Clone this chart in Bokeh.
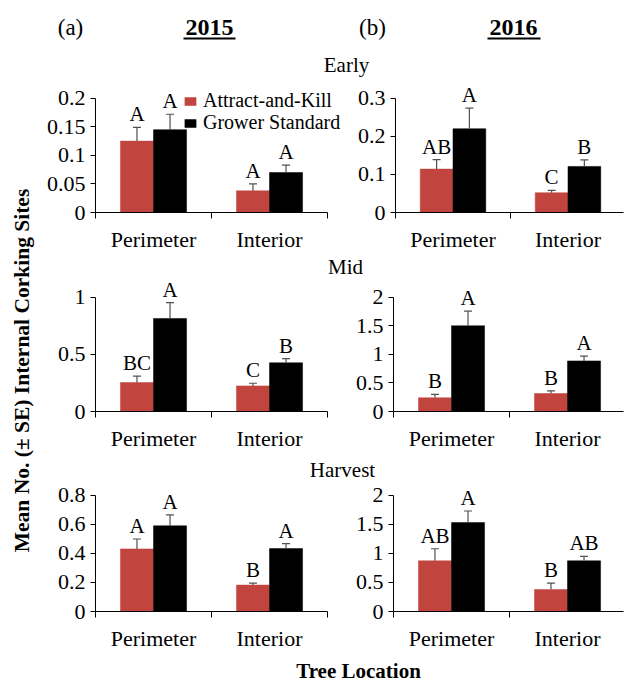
import math
from bokeh.plotting import figure
from bokeh.layouts import row, column
from bokeh.models import (Range1d, LinearAxis, FixedTicker, ColumnDataSource,
                          Whisker, TeeHead, Legend, LegendItem)
from bokeh.core.properties import value
from bokeh.embed import file_html
from bokeh.resources import INLINE

# ---------------- data ----------------
locations = ["Perimeter", "Interior"]
treatments = ["Attract-and-Kill", "Grower Standard"]
years = ["2015", "2016"]
panel_tags = ["(a)", "(b)"]
periods = ["Early", "Mid", "Harvest"]

ak_2015_early = [0.125, 0.038]
gs_2015_early = [0.145, 0.070]
ak_se_2015_early = [0.024, 0.012]
gs_se_2015_early = [0.027, 0.013]
ak_let_2015_early = ["A", "A"]
gs_let_2015_early = ["A", "A"]
ticks_2015_early = [0, 0.05, 0.1, 0.15, 0.2]

ak_2016_early = [0.114, 0.052]
gs_2016_early = [0.220, 0.121]
ak_se_2016_early = [0.025, 0.006]
gs_se_2016_early = [0.054, 0.017]
ak_let_2016_early = ["AB", "C"]
gs_let_2016_early = ["A", "B"]
ticks_2016_early = [0, 0.1, 0.2, 0.3]

ak_2015_mid = [0.253, 0.224]
gs_2015_mid = [0.814, 0.426]
ak_se_2015_mid = [0.057, 0.023]
gs_se_2015_mid = [0.138, 0.037]
ak_let_2015_mid = ["BC", "C"]
gs_let_2015_mid = ["A", "B"]
ticks_2015_mid = [0, 0.5, 1]

ak_2016_mid = [0.24, 0.314]
gs_2016_mid = [1.50, 0.885]
ak_se_2016_mid = [0.06, 0.046]
gs_se_2016_mid = [0.255, 0.085]
ak_let_2016_mid = ["B", "B"]
gs_let_2016_mid = ["A", "A"]
ticks_2016_mid = [0, 0.5, 1, 1.5, 2]

ak_2015_harv = [0.431, 0.182]
gs_2015_harv = [0.590, 0.433]
ak_se_2015_harv = [0.068, 0.013]
gs_se_2015_harv = [0.075, 0.034]
ak_let_2015_harv = ["A", "B"]
gs_let_2015_harv = ["A", "A"]
ticks_2015_harv = [0, 0.2, 0.4, 0.6, 0.8]

ak_2016_harv = [0.872, 0.38]
gs_2016_harv = [1.53, 0.872]
ak_se_2016_harv = [0.208, 0.11]
gs_se_2016_harv = [0.20, 0.078]
ak_let_2016_harv = ["AB", "B"]
gs_let_2016_harv = ["A", "AB"]
ticks_2016_harv = [0, 0.5, 1, 1.5, 2]

# ---------------- style ----------------
SERIF = "Liberation Serif"
RED = "#c1443e"
BLACK = "#000000"
ERR = "#505050"
TICK_FS = "22px"
CAT_FS = "22px"
LET_FS = "21px"
BAR_W = 0.285
AXIS_W = 232      # px covered by the two location categories


def panel(ak, gs, ak_se, gs_se, ak_let, gs_let, ticks, width, height,
          bl, br, bb, pad, legend=False):
    frame_h = height - bb
    frame_w = width - bl - br
    ymax = ticks[-1]
    yend = ymax * frame_h / (frame_h - pad)
    ncat = len(locations)
    xend = ncat * frame_w / AXIS_W
    p = figure(width=width, height=height, output_backend="svg",
               toolbar_location=None, x_range=Range1d(0, xend),
               y_range=Range1d(0, yend), x_axis_location=None,
               y_axis_location=None, min_border_left=bl, min_border_right=br,
               min_border_bottom=bb, min_border_top=0)
    p.outline_line_color = None
    p.xgrid.visible = False
    p.ygrid.visible = False
    p.background_fill_color = None
    p.border_fill_color = None

    centers = [i + 0.5 for i in range(ncat)]
    src_ak = ColumnDataSource(dict(
        x=[c - BAR_W / 2 for c in centers], top=ak,
        up=[m + s for m, s in zip(ak, ak_se)], lab=ak_let))
    src_gs = ColumnDataSource(dict(
        x=[c + BAR_W / 2 for c in centers], top=gs,
        up=[m + s for m, s in zip(gs, gs_se)], lab=gs_let))

    for src in (src_ak, src_gs):
        w = Whisker(base="x", upper="up", lower="top", source=src,
                    line_color=ERR, line_width=1.2,
                    upper_head=TeeHead(size=8, line_color=ERR, line_width=1.2),
                    lower_head=None, level="glyph")
        p.add_layout(w)

    r_ak = p.vbar(x="x", top="top", width=BAR_W, bottom=0, source=src_ak,
                  fill_color=RED, line_color=RED, line_width=0.5)
    r_gs = p.vbar(x="x", top="top", width=BAR_W, bottom=0, source=src_gs,
                  fill_color=BLACK, line_color=BLACK, line_width=0.5)

    for src in (src_ak, src_gs):
        p.text(x="x", y="up", text="lab", source=src, text_align="center",
               text_baseline="bottom", y_offset=-1,
               text_font=value(SERIF), text_font_size=LET_FS,
               text_color="black")

    yax = LinearAxis(ticker=FixedTicker(ticks=ticks), bounds=(0, ymax))
    yax.major_label_overrides = {t: f"{t:g}" for t in ticks}
    yax.major_tick_out = 5
    yax.major_tick_in = 0
    yax.minor_tick_out = 0
    yax.minor_tick_in = 0
    yax.major_label_standoff = 5
    yax.axis_line_color = "black"
    yax.major_tick_line_color = "black"
    yax.major_label_text_font = SERIF
    yax.major_label_text_font_size = TICK_FS
    yax.major_label_text_color = "black"
    p.add_layout(yax, "left")

    xax = LinearAxis(ticker=FixedTicker(ticks=centers,
                                        minor_ticks=list(range(ncat + 1))),
                     bounds=(0, ncat))
    xax.major_label_overrides = {c: n for c, n in zip(centers, locations)}
    xax.major_tick_out = 0
    xax.major_tick_in = 0
    xax.minor_tick_out = 6
    xax.minor_tick_in = 0
    xax.minor_tick_line_color = "black"
    xax.axis_line_color = "black"
    xax.major_label_standoff = 8
    xax.major_label_text_font = SERIF
    xax.major_label_text_font_size = CAT_FS
    xax.major_label_text_color = "black"
    p.add_layout(xax, "below")

    if legend:
        for i, (name, r) in enumerate(zip(treatments, (r_ak, r_gs))):
            lg = Legend(items=[LegendItem(label=name, renderers=[r])],
                        location=(88, 100 - 22 * i), orientation="vertical",
                        padding=0, margin=0, spacing=0, glyph_width=14,
                        glyph_height=10, label_height=15, label_standoff=6,
                        label_text_font=SERIF, label_text_font_size="20px",
                        label_text_color="black",
                        border_line_color=None, background_fill_alpha=0)
            p.add_layout(lg, "center")
    return p


def strip(width, height):
    p = figure(width=width, height=height, output_backend="svg",
               toolbar_location=None, x_range=Range1d(0, width),
               y_range=Range1d(0, height), x_axis_location=None,
               y_axis_location=None, min_border=0)
    p.outline_line_color = None
    p.xgrid.visible = False
    p.ygrid.visible = False
    return p


COLW = 587

# header
hdr = strip(COLW, 83)
hdr.text(x=[32, 334], y=[56, 56], text=panel_tags, text_font=value(SERIF),
         text_font_size="23px", text_align="center", text_baseline="middle")
hdr.text(x=[171, 475], y=[56, 56], text=years, text_font=value(SERIF),
         text_font_size="24px", text_font_style="bold", text_align="center",
         text_baseline="middle")
hdr.segment(x0=[145, 449], x1=[197, 502], y0=[45, 45], y1=[45, 45],
            line_color="black", line_width=1.8)
hdr.text(x=[308], y=[19], text=[periods[0]], text_font=value(SERIF),
         text_font_size="21px", text_align="center", text_baseline="middle")

mid = strip(COLW, 24)
mid.text(x=[307], y=[12], text=[periods[1]], text_font=value(SERIF),
         text_font_size="21px", text_align="center", text_baseline="middle")

harv = strip(COLW, 29)
harv.text(x=[304], y=[13], text=[periods[2]], text_font=value(SERIF),
          text_font_size="21px", text_align="center", text_baseline="middle")

xlab = strip(COLW, 29)
xlab.text(x=[320], y=[12], text=["Tree Location"], text_font=value(SERIF),
          text_font_size="21px", text_font_style="bold", text_align="center",
          text_baseline="middle")

ylab = strip(38, 682)
ylab.text(x=[21], y=[312], text=["Mean No. (\u00b1 SE) Internal Corking Sites"],
          angle=math.pi / 2, text_font=value(SERIF), text_font_size="21.5px",
          text_font_style="bold", text_align="center", text_baseline="middle")

p11 = panel(ak_2015_early, gs_2015_early, ak_se_2015_early, gs_se_2015_early,
            ak_let_2015_early, gs_let_2015_early, ticks_2015_early,
            316, 171, 57, 2, 40, 15, legend=True)
p12 = panel(ak_2016_early, gs_2016_early, ak_se_2016_early, gs_se_2016_early,
            ak_let_2016_early, gs_let_2016_early, ticks_2016_early,
            271, 171, 39, 2, 40, 15)
p21 = panel(ak_2015_mid, gs_2015_mid, ak_se_2015_mid, gs_se_2015_mid,
            ak_let_2015_mid, gs_let_2015_mid, ticks_2015_mid,
            307, 175, 57, 18, 40, 19)
p22 = panel(ak_2016_mid, gs_2016_mid, ak_se_2016_mid, gs_se_2016_mid,
            ak_let_2016_mid, gs_let_2016_mid, ticks_2016_mid,
            280, 175, 48, 2, 40, 19)
p31 = panel(ak_2015_harv, gs_2015_harv, ak_se_2015_harv, gs_se_2015_harv,
            ak_let_2015_harv, gs_let_2015_harv, ticks_2015_harv,
            307, 171, 57, 18, 40, 13)
p32 = panel(ak_2016_harv, gs_2016_harv, ak_se_2016_harv, gs_se_2016_harv,
            ak_let_2016_harv, gs_let_2016_harv, ticks_2016_harv,
            280, 171, 48, 2, 40, 13)

right = column(hdr, row(p11, p12, spacing=0), mid, row(p21, p22, spacing=0),
               harv, row(p31, p32, spacing=0), xlab, spacing=0)
layout = row(ylab, right, spacing=0)

open("out.html", "w").write(file_html(layout, INLINE))
